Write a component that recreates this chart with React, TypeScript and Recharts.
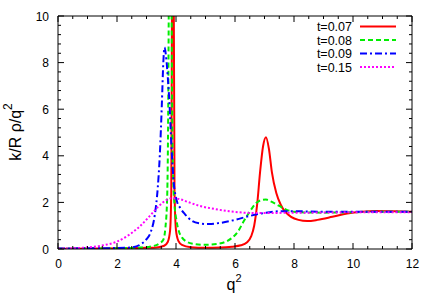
import React from "react";
import { LineChart, Line, XAxis, YAxis, Legend } from "recharts";

// ---- data (q^2 values and k/R rho/q^2 values per series) ----
const q2_t007 = [0, 1, 2, 3, 3.4, 3.6, 3.72, 3.8, 3.84, 3.87, 3.895, 3.92, 3.95, 4.0, 4.08, 4.2, 4.5, 5.0, 5.5, 5.9, 6.2, 6.4, 6.55, 6.65, 6.75, 6.85, 6.95, 7.05, 7.15, 7.25, 7.4, 7.55, 7.7, 7.9, 8.15, 8.45, 8.8, 9.3, 9.8, 10.3, 10.8, 11.4, 12];
const rho_t007 = [0.01, 0.02, 0.03, 0.05, 0.08, 0.14, 0.3, 0.8, 2.5, 12, 40, 12, 2.5, 0.8, 0.35, 0.18, 0.08, 0.05, 0.06, 0.1, 0.16, 0.28, 0.55, 1.0, 1.9, 3.3, 4.4, 4.8, 4.3, 3.3, 2.4, 1.9, 1.6, 1.38, 1.25, 1.2, 1.25, 1.38, 1.52, 1.6, 1.63, 1.62, 1.6];

const q2_t008 = [0, 1, 2, 2.8, 3.2, 3.45, 3.57, 3.64, 3.7, 3.745, 3.78, 3.805, 3.83, 3.86, 3.9, 3.95, 4.02, 4.1, 4.2, 4.35, 4.6, 5.0, 5.4, 5.7, 5.9, 6.1, 6.3, 6.5, 6.7, 6.9, 7.05, 7.25, 7.5, 7.75, 8.0, 8.4, 9.0, 10, 11, 12];
const rho_t008 = [0.01, 0.02, 0.03, 0.06, 0.12, 0.25, 0.4, 0.9, 2.2, 8, 20, 40, 20, 8, 3.2, 1.9, 1.2, 0.75, 0.5, 0.32, 0.22, 0.18, 0.22, 0.32, 0.48, 0.75, 1.2, 1.6, 1.95, 2.1, 2.12, 2.02, 1.85, 1.68, 1.6, 1.57, 1.56, 1.58, 1.6, 1.6];

const q2_t009 = [0, 1, 2, 2.5, 2.8, 3.0, 3.15, 3.28, 3.38, 3.45, 3.52, 3.57, 3.61, 3.66, 3.72, 3.78, 3.85, 3.92, 4.02, 4.15, 4.3, 4.55, 4.8, 5.1, 5.5, 6.0, 6.5, 7.0, 7.5, 8.0, 9.0, 10, 11, 12];
const rho_t009 = [0.02, 0.03, 0.04, 0.07, 0.2, 0.42, 0.75, 1.45, 2.6, 4.0, 6.2, 8.0, 8.65, 8.3, 7.4, 6.2, 4.3, 2.9, 2.1, 1.75, 1.5, 1.2, 1.1, 1.07, 1.12, 1.25, 1.42, 1.55, 1.62, 1.62, 1.6, 1.6, 1.6, 1.6];

const q2_t015 = [0, 0.5, 1.0, 1.5, 2.0, 2.4, 2.8, 3.1, 3.4, 3.65, 3.85, 4.1, 4.4, 4.8, 5.3, 5.8, 6.3, 6.8, 7.5, 8.5, 9.5, 10.5, 11.5, 12];
const rho_t015 = [0.01, 0.03, 0.07, 0.15, 0.32, 0.6, 1.0, 1.4, 1.82, 2.08, 2.18, 2.15, 2.02, 1.85, 1.72, 1.62, 1.56, 1.54, 1.55, 1.56, 1.57, 1.58, 1.58, 1.58];

const seriesNames = ["t=0.07", "t=0.08", "t=0.09", "t=0.15"];
const seriesColors = ["#ff0000", "#00ee00", "#0000ff", "#ff00ff"];
const seriesDash = ["", "5 3", "7 3 2 3", "2 2"];

const xTicks = Array.from({ length: 25 }, (_, i) => i * 0.5);
const yTicks = Array.from({ length: 26 }, (_, i) => Math.round(i * 0.4 * 10) / 10);
const xMajor = [0, 2, 4, 6, 8, 10, 12];
const yMajor = [0, 2, 4, 6, 8, 10];

const build = (xs: number[], ys: number[]) => xs.map((x, i) => ({ x, y: ys[i] }));
const seriesData = [
  build(q2_t007, rho_t007),
  build(q2_t008, rho_t008),
  build(q2_t009, rho_t009),
  build(q2_t015, rho_t015),
];

// ---- layout ----
const W = 436;
const H = 305;
const M = { top: 15, right: 23, bottom: 55, left: 57 };
const FONT = "'Liberation Sans', Arial, sans-serif";
const AX = "#000";

const isMajor = (v: number, arr: number[]) => arr.some((m) => Math.abs(m - v) < 1e-6);

const BottomTick = (p: any) => {
  const { x, y, payload } = p;
  const major = isMajor(payload.value, xMajor);
  return (
    <g>
      <line x1={x} x2={x} y1={y} y2={y - (major ? 6 : 3)} stroke={AX} strokeWidth={1} />
      {major && (
        <text x={x + 0.5} y={y + 18.5} textAnchor="middle" fontSize={12} fontFamily={FONT} fill="#000">
          {payload.value}
        </text>
      )}
    </g>
  );
};
const TopTick = (p: any) => {
  const { x, y, payload } = p;
  const major = isMajor(payload.value, xMajor);
  return <line x1={x} x2={x} y1={y} y2={y + (major ? 6 : 3)} stroke={AX} strokeWidth={1} />;
};
const LeftTick = (p: any) => {
  const { x, y, payload } = p;
  const major = isMajor(payload.value, yMajor);
  return (
    <g>
      <line x1={x} x2={x + (major ? 6 : 3)} y1={y} y2={y} stroke={AX} strokeWidth={1} />
      {major && (
        <text x={x - 9} y={y + 4.5} textAnchor="end" fontSize={12} fontFamily={FONT} fill="#000">
          {payload.value}
        </text>
      )}
    </g>
  );
};
const RightTick = (p: any) => {
  const { x, y, payload } = p;
  const major = isMajor(payload.value, yMajor);
  return <line x1={x} x2={x - (major ? 6 : 3)} y1={y} y2={y} stroke={AX} strokeWidth={1} />;
};

const XLabel = () => (
  <text x={234} y={290} textAnchor="middle" fontSize={16} fontFamily={FONT} fill="#000">
    q<tspan dy={-8.5} fontSize={11}>2</tspan>
  </text>
);
const YLabel = () => (
  <text
    x={0}
    y={0}
    transform="translate(20.5,132) rotate(-90)"
    textAnchor="middle"
    fontSize={16}
    fontFamily={FONT}
    fill="#000"
  >
    k/R ρ/q<tspan dy={-9} fontSize={12}>2</tspan>
  </text>
);

const LegendBox = () => (
  <svg width={W} height={80} style={{ display: "block" }}>
    {seriesNames.map((n, i) => (
      <g key={n}>
        <text x={352} y={31 + i * 13.5} textAnchor="end" fontSize={12.5} fontFamily={FONT} fill="#000">
          {n}
        </text>
        <line
          x1={360}
          x2={396}
          y1={26.5 + i * 13.5}
          y2={26.5 + i * 13.5}
          stroke={seriesColors[i]}
          strokeWidth={2}
          strokeDasharray={seriesDash[i] || undefined}
        />
      </g>
    ))}
  </svg>
);

export default function App() {
  return (
    <div style={{ position: "absolute", left: 0, top: 0, width: W, height: H, background: "#fff" }}>
      <LineChart width={W} height={H} margin={M}>
        <XAxis
          xAxisId="b"
          type="number"
          dataKey="x"
          domain={[0, 12]}
          ticks={xTicks}
          interval={0}
          allowDataOverflow
          height={1}
          tickSize={0}
          tickMargin={0}
          tickLine={false}
          axisLine={{ stroke: AX }}
          tick={(p: any) => <BottomTick {...p} />}
          label={() => <XLabel />}
        />
        <XAxis
          xAxisId="t"
          orientation="top"
          type="number"
          dataKey="x"
          domain={[0, 12]}
          ticks={xTicks}
          interval={0}
          allowDataOverflow
          height={1}
          tickSize={0}
          tickMargin={0}
          tickLine={false}
          axisLine={{ stroke: AX }}
          tick={(p: any) => <TopTick {...p} />}
        />
        <YAxis
          yAxisId="l"
          type="number"
          domain={[0, 10]}
          ticks={yTicks}
          interval={0}
          allowDataOverflow
          width={1}
          tickSize={0}
          tickMargin={0}
          tickLine={false}
          axisLine={{ stroke: AX }}
          tick={(p: any) => <LeftTick {...p} />}
          label={() => <YLabel />}
        />
        <YAxis
          yAxisId="r"
          orientation="right"
          type="number"
          domain={[0, 10]}
          ticks={yTicks}
          interval={0}
          allowDataOverflow
          width={1}
          tickSize={0}
          tickMargin={0}
          tickLine={false}
          axisLine={{ stroke: AX }}
          tick={(p: any) => <RightTick {...p} />}
        />
        {seriesData.map((d, i) => (
          <Line
            key={seriesNames[i]}
            xAxisId="b"
            yAxisId="l"
            data={d}
            dataKey="y"
            name={seriesNames[i]}
            type="monotone"
            stroke={seriesColors[i]}
            strokeWidth={2}
            strokeDasharray={seriesDash[i] || undefined}
            dot={false}
            activeDot={false}
            isAnimationActive={false}
          />
        ))}
        <Legend
          layout="vertical"
          align="center"
          verticalAlign="middle"
          content={() => <LegendBox />}
          wrapperStyle={{ position: "absolute", left: 0, top: 0, width: W, height: 80, pointerEvents: "none" }}
        />
      </LineChart>
    </div>
  );
}
